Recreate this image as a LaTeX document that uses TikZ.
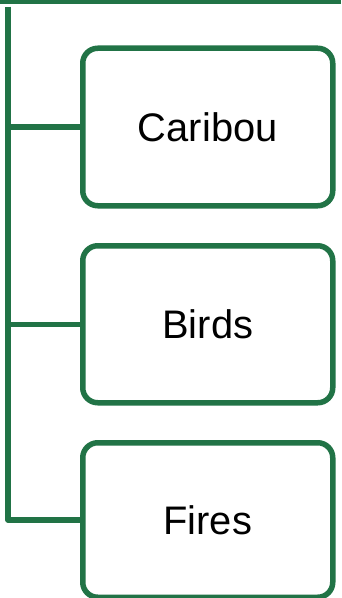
\documentclass[tikz,border=0pt]{standalone}
\usepackage{fontspec}
\setmainfont{Liberation Sans}
\definecolor{ggreen}{RGB}{33,115,70}
\begin{document}
\begin{tikzpicture}[x=1bp,y=-1bp,
  itembox/.style={draw=ggreen, line width=5.5bp, rounded corners=15bp, fill=white,
    minimum width=250bp, inner sep=0pt, anchor=north west,
    font=\fontsize{40}{46}\selectfont, text=black},
  link/.style={draw=ggreen, line width=5.5bp, line join=round}]
\useasboundingbox (0,0) rectangle (341,598);
\fill[ggreen] (0,0) rectangle (341,4.3);
\node[itembox, minimum height=157.5bp] (caribou) at (80,45.5) {Caribou};
\node[itembox, minimum height=157bp] (birds) at (80,243) {Birds};
\node[itembox, minimum height=154.5bp] (fires) at (80,440) {Fires};
\coordinate (top) at (8,6.7);
\draw[link] (top) |- (fires.west);
\draw[link] (caribou.west) -- (caribou.west -| top);
\draw[link] (birds.west) -- (birds.west -| top);
\end{tikzpicture}
\end{document}
